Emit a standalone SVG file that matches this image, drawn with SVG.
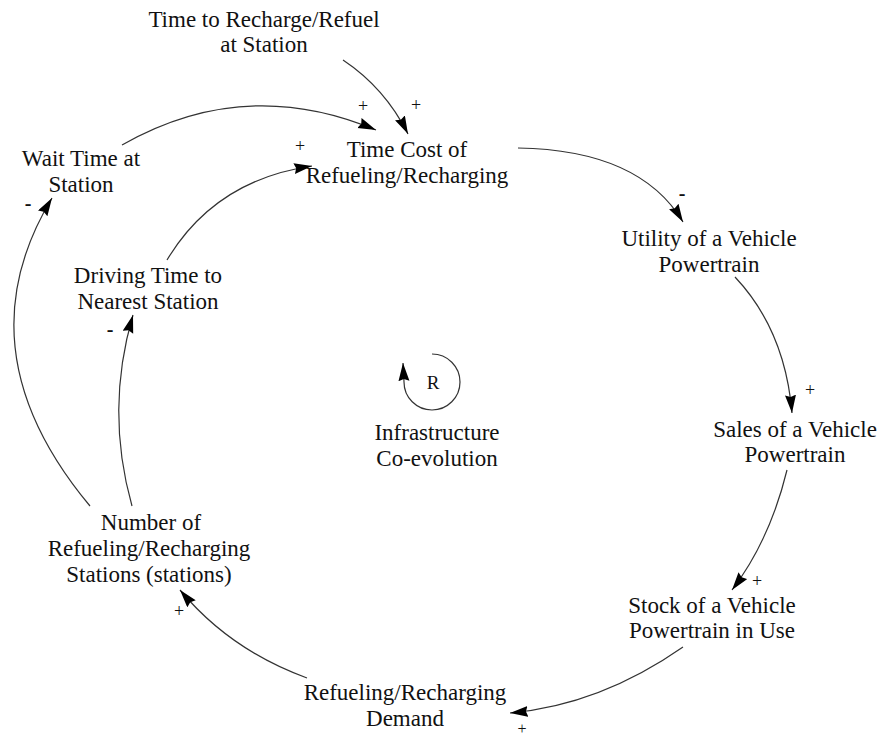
<svg xmlns="http://www.w3.org/2000/svg" width="882" height="738" viewBox="0 0 882 738">
<style>
.t{font-family:"Liberation Serif","Times New Roman",serif;font-size:23px;fill:#111;text-anchor:middle}
.p{font-family:"Liberation Serif","Times New Roman",serif;font-size:18px;fill:#111;text-anchor:middle}
.m{font-family:"Liberation Serif","Times New Roman",serif;font-size:20px;font-weight:bold;fill:#111;text-anchor:middle}
.c{fill:none;stroke:#333;stroke-width:1.2}
</style>
<defs>
<marker id="ah" markerUnits="userSpaceOnUse" markerWidth="19" markerHeight="12" refX="18" refY="5.5" orient="auto">
<path d="M0,0 L18,5.5 L0,11 L2,5.5 z" fill="#000"/>
</marker>
</defs>
<rect width="882" height="738" fill="#fff"/>
<g id="n-recharge-time"><text class="t" x="264" y="27">Time to Recharge/Refuel</text><text class="t" x="264" y="52">at Station</text></g>
<g id="n-time-cost"><text class="t" x="407" y="157">Time Cost of</text><text class="t" x="407" y="183">Refueling/Recharging</text></g>
<g id="n-wait"><text class="t" x="81" y="166">Wait Time at</text><text class="t" x="81" y="192">Station</text></g>
<g id="n-utility"><text class="t" x="709" y="246">Utility of a Vehicle</text><text class="t" x="709" y="272">Powertrain</text></g>
<g id="n-driving"><text class="t" x="148" y="283">Driving Time to</text><text class="t" x="148" y="309">Nearest Station</text></g>
<g id="n-sales"><text class="t" x="795" y="437">Sales of a Vehicle</text><text class="t" x="795" y="462">Powertrain</text></g>
<g id="n-loop"><text class="t" x="433" y="389" style="font-size:19px">R</text><text class="t" x="437" y="440">Infrastructure</text><text class="t" x="437" y="466">Co-evolution</text></g>
<g id="n-number"><text class="t" x="151" y="530">Number of</text><text class="t" x="149" y="556">Refueling/Recharging</text><text class="t" x="149" y="582">Stations (stations)</text></g>
<g id="n-stock"><text class="t" x="712" y="613">Stock of a Vehicle</text><text class="t" x="712" y="638">Powertrain in Use</text></g>
<g id="n-demand"><text class="t" x="405" y="700">Refueling/Recharging</text><text class="t" x="405" y="726">Demand</text></g>
<g id="connectors">
<path class="c" d="M343,60 Q385,88 408,134" marker-end="url(#ah)"/>
<path class="c" d="M122,145 Q245,75 376,130" marker-end="url(#ah)"/>
<path class="c" d="M167,260 Q215,180 312,166" marker-end="url(#ah)"/>
<path class="c" d="M518,148 Q640,150 683,222" marker-end="url(#ah)"/>
<path class="c" d="M735,277 Q785,330 792,413" marker-end="url(#ah)"/>
<path class="c" d="M787,470 Q770,540 732,590" marker-end="url(#ah)"/>
<path class="c" d="M683,647 Q600,705 510,713" marker-end="url(#ah)"/>
<path class="c" d="M307,678 Q230,650 180,590" marker-end="url(#ah)"/>
<path class="c" d="M132,506 Q105,410 133,315" marker-end="url(#ah)"/>
<path class="c" d="M90,506 Q-40,350 52,198" marker-end="url(#ah)"/>
<path class="c" d="M432,354 A28,28 0 1 1 404,382 L403,363" marker-end="url(#ah)"/>
<text class="p" x="416" y="111">+</text>
<text class="p" x="363" y="112">+</text>
<text class="p" x="300" y="152">+</text>
<text class="m" x="682" y="200">-</text>
<text class="p" x="810" y="396">+</text>
<text class="p" x="757" y="587">+</text>
<text class="p" x="522" y="734" style="font-size:16px">+</text>
<text class="p" x="179" y="617">+</text>
<text class="m" x="110" y="336">-</text>
<text class="m" x="28" y="210">-</text>
</g>
</svg>
